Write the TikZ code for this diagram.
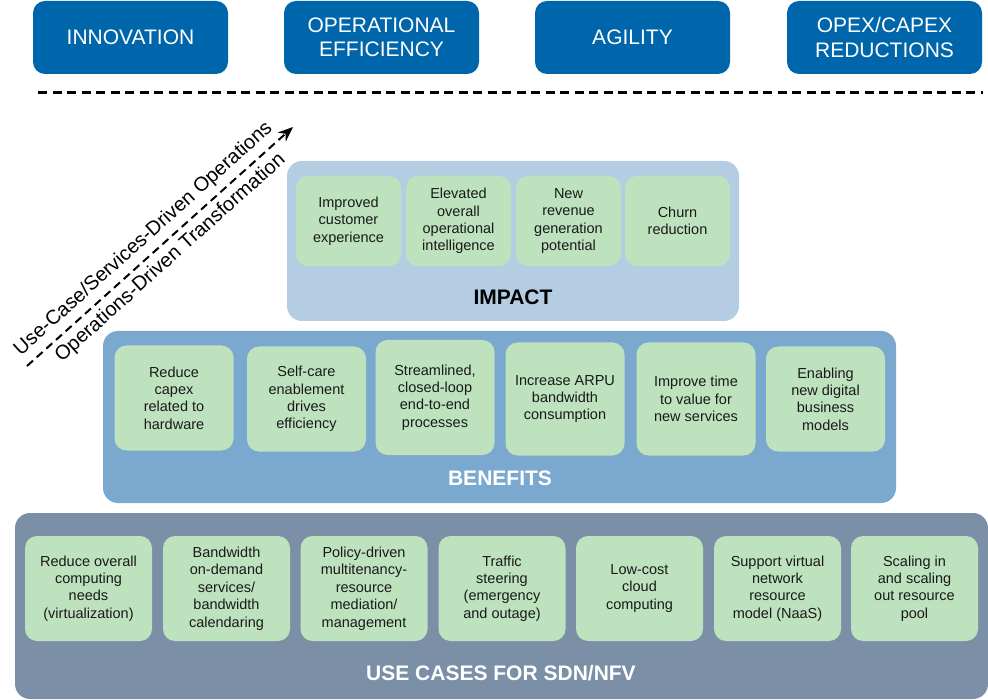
\documentclass[tikz,border=0pt]{standalone}
\usepackage{fontspec}
\setmainfont{Liberation Sans}
\usetikzlibrary{arrows.meta,positioning}
\definecolor{cA}{HTML}{0066AB}
\definecolor{cB}{HTML}{B4CDE3}
\definecolor{cC}{HTML}{7AA8CF}
\definecolor{cD}{HTML}{7B8FA7}
\definecolor{cE}{HTML}{BDE2BD}
\definecolor{cT}{HTML}{1A1A1A}
\tikzset{
  goal/.style={rounded corners=12pt,fill=cA,text=white,minimum width=195pt,
    minimum height=73pt,align=center,font=\fontsize{21}{24.5}\selectfont},
  panel/.style={rounded corners=15pt,inner sep=0pt},
  cell/.style={rounded corners=12pt,fill=cE,text=cT,align=center,inner sep=2pt,
    font=\fontsize{14.5}{17.4}\selectfont},
  tag/.style={font=\fontsize{21}{24}\selectfont\bfseries},
  trendtext/.style={font=\fontsize{20}{23}\selectfont,sloped},
  trend/.style={-{Stealth[length=15pt,width=12pt]},dash pattern=on 8pt off 5pt,line width=2pt},
  sepline/.style={line width=3pt,dash pattern=on 9pt off 5.5pt},
}

\begin{document}
\begin{tikzpicture}[x=1pt,y=-1pt]
\useasboundingbox (0,0) rectangle (988,700);
% goals along the top
\node[goal] (innov) at (130.5,37.5) {INNOVATION};
\node[goal] (opeff) at (381.5,37.5) {OPERATIONAL\\EFFICIENCY};
\node[goal] (agile) at (632.5,37.5) {AGILITY};
\node[goal] (opex)  at (884.5,37.5) {OPEX/CAPEX\\REDUCTIONS};
\coordinate (sepL) at (38,93);
\coordinate (sepR) at (983,93);
\draw[sepline] (sepL) -- (sepR);

% trend arrow
\coordinate (trendS) at (27,366);
\coordinate (trendE) at (293,127);
\draw[trend] (trendS) -- node[trendtext,above=3pt,pos=0.48] (useop) {Use-Case/Services-Driven Operations}
  node[trendtext,below=2pt,pos=0.5] (opstr) {Operations-Driven Transformation} (trendE);

% impact
\node[panel,fill=cB,minimum width=452pt,minimum height=160pt] (impact) at (513,241) {};
\node[tag,text=black] (impactT) at (513,297) {IMPACT};
\node[cell,minimum width=105pt,minimum height=90pt] (im1) at (348.5,221) {Improved\\customer\\experience};
\node[cell,minimum width=105pt,minimum height=90pt] (im2) at (458.5,221) {Elevated\\overall\\operational\\intelligence};
\node[cell,minimum width=105pt,minimum height=90pt] (im3) at (568.5,221) {New\\revenue\\generation\\potential};
\node[cell,minimum width=105pt,minimum height=90pt] (im4) at (677.5,221) {Churn\\reduction};

% benefits
\node[panel,fill=cC,minimum width=793pt,minimum height=172pt] (benefits) at (499.5,417) {};
\node[tag,text=white] (benefitsT) at (500,478) {BENEFITS};
\node[cell,minimum width=119pt,minimum height=105pt] (be1) at (174,398) {Reduce\\capex\\related to\\hardware};
\node[cell,minimum width=119pt,minimum height=105pt] (be2) at (306.5,399) {Self-care\\enablement\\drives\\efficiency};
\node[cell,minimum width=119pt,minimum height=115pt] (be3) at (435,397.5) {Streamlined,\\closed-loop\\end-to-end\\processes};
\node[cell,minimum width=119pt,minimum height=113pt] (be4) at (565,399) {Increase ARPU\\bandwidth\\consumption};
\node[cell,minimum width=119pt,minimum height=113pt] (be5) at (696,399) {Improve time\\to value for\\new services};
\node[cell,minimum width=119pt,minimum height=105pt] (be6) at (825.5,399) {Enabling\\new digital\\business\\models};

% use cases
\node[panel,fill=cD,minimum width=973pt,minimum height=186pt] (usecases) at (501.5,606) {};
\node[tag,text=white] (usecasesT) at (501,673) {USE CASES FOR SDN/NFV};
\node[cell,minimum width=127pt,minimum height=105pt] (uc1) at (88.5,588.5) {Reduce overall\\computing\\needs\\(virtualization)};
\node[cell,minimum width=127pt,minimum height=105pt] (uc2) at (226.5,588.5) {Bandwidth\\on-demand\\services/\\bandwidth\\calendaring};
\node[cell,minimum width=127pt,minimum height=105pt] (uc3) at (364,588.5) {Policy-driven\\multitenancy-\\resource\\mediation/\\management};
\node[cell,minimum width=127pt,minimum height=105pt] (uc4) at (502,588.5) {Traffic\\steering\\(emergency\\and outage)};
\node[cell,minimum width=127pt,minimum height=105pt] (uc5) at (639.5,588.5) {Low-cost\\cloud\\computing};
\node[cell,minimum width=127pt,minimum height=105pt] (uc6) at (777.5,588.5) {Support virtual\\network\\resource\\model (NaaS)};
\node[cell,minimum width=127pt,minimum height=105pt] (uc7) at (914.5,588.5) {Scaling in\\and scaling\\out resource\\pool};
\end{tikzpicture}
\end{document}
